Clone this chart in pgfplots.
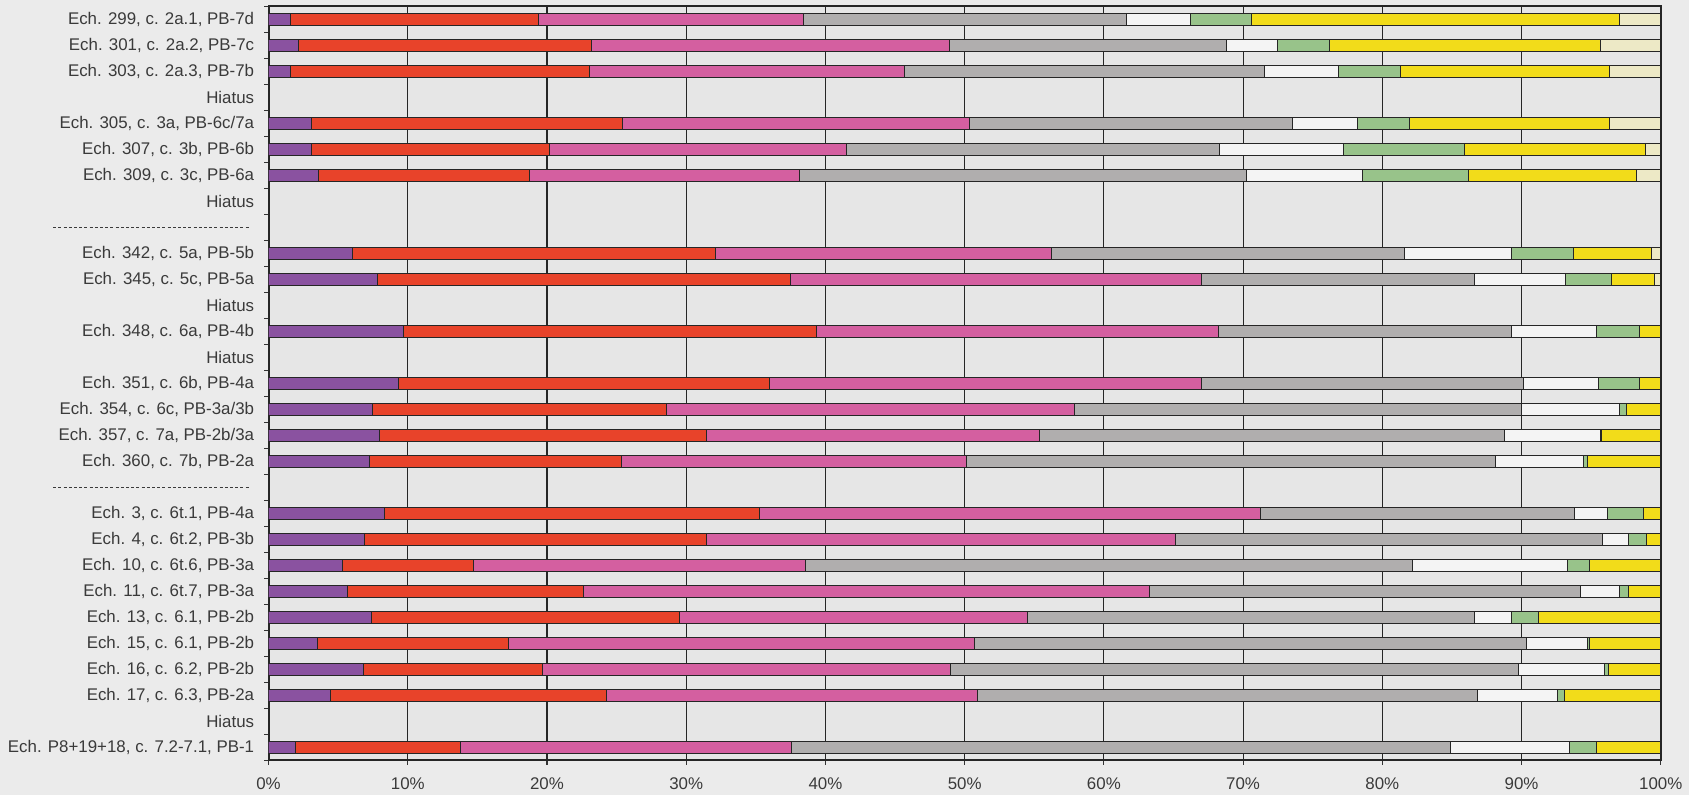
\documentclass[border=0pt]{standalone}
\usepackage{pgfplots}
\usepackage{pgfplotstable}
\usepackage{fontspec}
\setmainfont{Liberation Sans}
\pgfplotsset{compat=1.18}
\usetikzlibrary{backgrounds}

\definecolor{cpurple}{HTML}{8A52A0}
\definecolor{cred}{HTML}{E8432A}
\definecolor{cpink}{HTML}{D45FA0}
\definecolor{cgrey}{HTML}{B0AEAE}
\definecolor{cwhite}{HTML}{F4F4F4}
\definecolor{cgreen}{HTML}{98C38A}
\definecolor{cyellow}{HTML}{F2DC1A}
\definecolor{cpale}{HTML}{EDE9C6}
\definecolor{bgpage}{HTML}{EBEBEB}
\definecolor{bgplot}{HTML}{E6E6E6}
\definecolor{txt}{HTML}{3A3A3A}

\pgfplotstableread{
row p r pk g w gr ye pl
1 1.54 17.86 19.05 23.15 4.65 4.32 26.49 2.94
2 2.13 21.06 25.74 19.86 3.66 3.78 19.40 4.37
3 1.54 21.54 22.56 25.87 5.34 4.43 15.05 3.67
5 3.10 22.31 24.96 23.16 4.67 3.78 14.35 3.67
6 3.10 17.04 21.33 26.86 8.90 8.63 13.03 1.11
7 3.59 15.13 19.38 32.17 8.31 7.63 12.06 1.73
10 6.05 26.03 24.15 25.37 7.69 4.45 5.61 0.65
11 7.85 29.62 29.51 19.61 6.56 3.29 3.07 0.49
13 9.69 29.69 28.84 21.07 6.09 3.05 1.57 0
15 9.31 26.69 30.98 23.14 5.37 2.94 1.57 0
16 7.49 21.08 29.33 32.06 7.10 0.48 2.46 0
17 7.95 23.52 23.88 33.43 6.85 0.12 4.25 0
18 7.23 18.13 24.77 38.02 6.26 0.35 5.24 0
20 8.31 26.93 36.00 22.53 2.42 2.59 1.22 0
21 6.90 24.57 33.67 30.70 1.84 1.27 1.05 0
22 5.30 9.39 23.84 43.66 11.12 1.59 5.10 0
23 5.67 16.98 40.63 30.97 2.81 0.62 2.32 0
24 7.38 22.10 25.02 32.09 2.67 1.94 8.80 0
25 3.51 13.70 33.50 39.66 4.39 0.14 5.10 0
26 6.82 12.82 29.34 40.77 6.23 0.27 3.75 0
27 4.44 19.81 26.70 35.91 5.72 0.48 6.94 0
29 1.92 11.87 23.73 47.34 8.55 1.95 4.64 0
}\datatable

\newcommand{\dashsep}{\hbox to 101pt{\leaders\hbox to 2.6pt{\hss\rule{1.5pt}{0.45pt}\hss}\hfill}}

\begin{document}
\begin{tikzpicture}[background rectangle/.style={fill=bgpage}, show background rectangle, inner frame sep=0pt]
\begin{axis}[
  name=ax,
  scale only axis,
  width=696.2pt, height=377pt,
  xmin=0, xmax=100, ymin=0.5, ymax=29.5,
  y dir=reverse,
  xbar stacked, bar width=5.6pt,
  xtick={0,10,...,100},
  xticklabels={0\%,10\%,20\%,30\%,40\%,50\%,60\%,70\%,80\%,90\%,100\%},
  xmajorgrids,
  grid style={black!85, line width=0.55pt},
  ytick={0.5,1.5,...,29.5},
  y tick label as interval,
  yticklabels={
    {Ech. 299, c. 2a.1, PB-7d},
    {Ech. 301, c. 2a.2, PB-7c},
    {Ech. 303, c. 2a.3, PB-7b},
    {Hiatus},
    {Ech. 305, c. 3a, PB-6c/7a},
    {Ech. 307, c. 3b, PB-6b},
    {Ech. 309, c. 3c, PB-6a},
    {Hiatus},
    {\dashsep},
    {Ech. 342, c. 5a, PB-5b},
    {Ech. 345, c. 5c, PB-5a},
    {Hiatus},
    {Ech. 348, c. 6a, PB-4b},
    {Hiatus},
    {Ech. 351, c. 6b, PB-4a},
    {Ech. 354, c. 6c, PB-3a/3b},
    {Ech. 357, c. 7a, PB-2b/3a},
    {Ech. 360, c. 7b, PB-2a},
    {\dashsep},
    {Ech. 3, c. 6t.1, PB-4a},
    {Ech. 4, c. 6t.2, PB-3b},
    {Ech. 10, c. 6t.6, PB-3a},
    {Ech. 11, c. 6t.7, PB-3a},
    {Ech. 13, c. 6.1, PB-2b},
    {Ech. 15, c. 6.1, PB-2b},
    {Ech. 16, c. 6.2, PB-2b},
    {Ech. 17, c. 6.3, PB-2a},
    {Hiatus},
    {Ech. P8+19+18, c. 7.2-7.1, PB-1}
  },
  tick align=outside,
  xtick pos=bottom, ytick pos=left,
  major tick length=2.2pt,
  tick style={black!80, line width=0.6pt},
  axis line style={black!85, line width=1pt},
  axis background/.style={fill=bgplot},
  ticklabel style={font=\fontsize{8.44}{10}\selectfont, text=txt},
  yticklabel style={xshift=-1.5pt},
  xticklabel style={inner ysep=0.5pt, yshift=-5.6pt},
  every axis plot/.append style={draw=black!85, line width=0.4pt},
]
\addplot[fill=cpurple] table[x=p, y=row] {\datatable};
\addplot[fill=cred] table[x=r, y=row] {\datatable};
\addplot[fill=cpink] table[x=pk, y=row] {\datatable};
\addplot[fill=cgrey] table[x=g, y=row] {\datatable};
\addplot[fill=cwhite] table[x=w, y=row] {\datatable};
\addplot[fill=cgreen] table[x=gr, y=row] {\datatable};
\addplot[fill=cyellow] table[x=ye, y=row] {\datatable};
\addplot[fill=cpale] table[x=pl, y=row] {\datatable};
\end{axis}
\path ([xshift=-134.3pt,yshift=-17.25pt]ax.south west) rectangle ([xshift=14pt,yshift=3.25pt]ax.north east);
\end{tikzpicture}
\end{document}
